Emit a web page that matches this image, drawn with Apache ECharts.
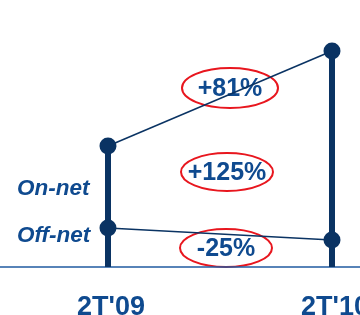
<!DOCTYPE html>
<html lang="en">
<head>
    <meta charset="UTF-8">
    <title>On-net / Off-net</title>
    <script src="https://cdn.jsdelivr.net/npm/echarts@6/dist/echarts.min.js"></script>
    <style>
        html, body { margin: 0; padding: 0; background: #fff; }
    </style>
</head>
<body>
<div id="main" style="width: 360px;height:315px;"></div>
<script type="text/javascript">
    // data (units = pixels above the baseline)
    var periods = ["2T'09", "2T'10"];
    var onNet = [121, 216];
    var offNet = [39, 27];
    var seriesNames = ['On-net', 'Off-net'];
    var changes = ['+81%', '+125%', '-25%'];

    var navy = '#0a3363';
    var textBlue = '#0f4a8f';
    var red = '#e8161e';
    var fontFam = '"Liberation Sans", Arial, sans-serif';

    function pairs(vals) {
        return vals.map(function (v, i) { return [i, v]; });
    }

    var myChart = echarts.init(document.getElementById('main'));

    function bubble(txt, cx, cy, rx, ry, filled) {
        return {
            type: 'group',
            z: 100,
            children: [
                {
                    type: 'ellipse',
                    shape: {cx: cx, cy: cy, rx: rx, ry: ry},
                    style: {fill: filled ? '#fff' : 'none', stroke: red, lineWidth: 2}
                },
                {
                    type: 'text',
                    x: cx,
                    y: cy + 1,
                    style: {
                        text: txt,
                        align: 'center',
                        verticalAlign: 'middle',
                        fill: textBlue,
                        font: 'bold 25px ' + fontFam
                    }
                }
            ]
        };
    }

    var option = {
        animation: false,
        backgroundColor: '#fff',
        grid: {left: 0, right: 0, top: 0, bottom: 48, containLabel: false},
        xAxis: {
            type: 'value',
            min: -0.482,
            max: 1.125,
            splitLine: {show: false},
            axisTick: {show: false},
            axisLabel: {show: false},
            axisLine: {onZero: false, lineStyle: {color: '#1f5aa0', width: 1.5}}
        },
        yAxis: {
            type: 'value',
            min: 0,
            max: 267,
            show: false,
            splitLine: {show: false}
        },
        series: [
            {
                type: 'bar',
                data: pairs(onNet),
                barWidth: 6,
                itemStyle: {color: navy},
                z: 2
            },
            {
                name: seriesNames[0],
                type: 'line',
                data: pairs(onNet),
                symbol: 'circle',
                symbolSize: 17,
                lineStyle: {color: navy, width: 1.5},
                itemStyle: {color: navy},
                z: 3
            },
            {
                name: seriesNames[1],
                type: 'line',
                data: pairs(offNet),
                symbol: 'circle',
                symbolSize: 17,
                lineStyle: {color: navy, width: 1.5},
                itemStyle: {color: navy},
                z: 3
            },
            {
                // period labels under the baseline
                type: 'scatter',
                data: pairs([0, 0]),
                symbolSize: 1,
                itemStyle: {color: 'rgba(0,0,0,0)', opacity: 1},
                silent: true,
                label: {
                    show: true,
                    position: 'bottom',
                    distance: 27,
                    offset: [3, 0],
                    opacity: 1,
                    formatter: function (p) { return periods[p.dataIndex]; },
                    fontSize: 27,
                    fontWeight: 'bold',
                    fontFamily: fontFam,
                    color: textBlue
                }
            }
        ],
        graphic: [
            {
                type: 'text',
                x: 17,
                y: 189,
                z: 100,
                style: {
                    text: seriesNames[0],
                    verticalAlign: 'middle',
                    fill: textBlue,
                    font: 'italic bold 22.5px ' + fontFam
                }
            },
            {
                type: 'text',
                x: 17,
                y: 236,
                z: 100,
                style: {
                    text: seriesNames[1],
                    verticalAlign: 'middle',
                    fill: textBlue,
                    font: 'italic bold 22.5px ' + fontFam
                }
            },
            bubble(changes[0], 230, 88, 48, 20, true),
            bubble(changes[1], 227, 172, 46, 19, true),
            bubble(changes[2], 226, 248, 46, 19, false)
        ]
    };
    myChart.setOption(option);
</script>
</body>
</html>
